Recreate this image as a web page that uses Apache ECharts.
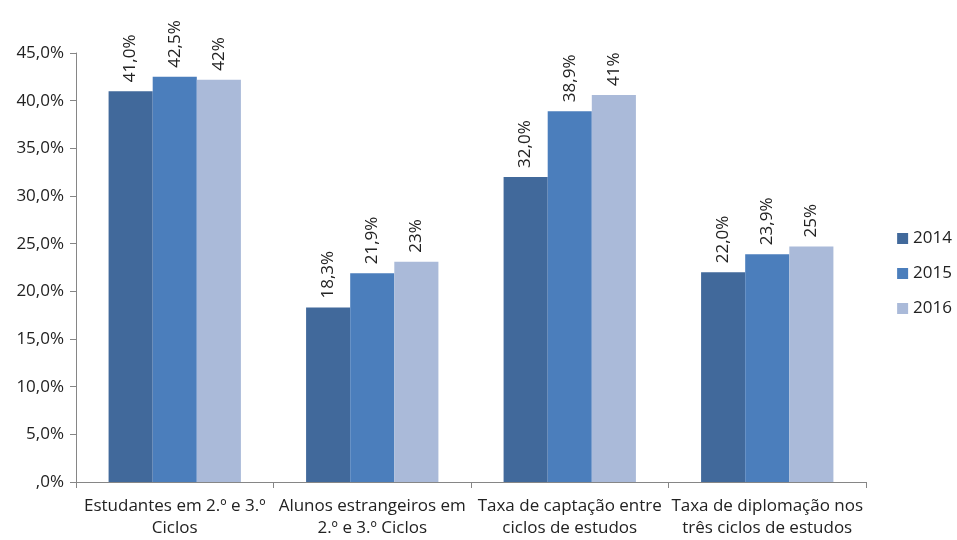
<!DOCTYPE html>
<html>
<head>
<meta charset="utf-8">
<script src="https://cdn.jsdelivr.net/npm/echarts@6/dist/echarts.min.js"></script>
<style>
  html, body { margin: 0; padding: 0; background: #fff; }
  #chart { width: 957px; height: 540px; }
</style>
</head>
<body>
<div id="chart"></div>
<script>
const categories = [
    'Estudantes em 2.º e 3.º\nCiclos',
    'Alunos estrangeiros em\n2.º e 3.º Ciclos',
    'Taxa de captação entre\nciclos de estudos',
    'Taxa de diplomação nos\ntrês ciclos de estudos'
];
const seriesNames = ['2014', '2015', '2016'];
const values2014 = [41.0, 18.3, 32.0, 22.0];
const values2015 = [42.5, 21.9, 38.9, 23.9];
const values2016 = [42.2, 23.1, 40.6, 24.7];
const labelDecimals = [1, 1, 0];
const colors = ['#41699B', '#4B7EBC', '#AABAD9'];

const fontFamily = '"Open Sans", sans-serif';

const fmtPct = (v, d) => {
    if (v === 0) return ',0%';
    return v.toFixed(d).replace('.', ',') + '%';
};

const chart = echarts.init(document.getElementById('chart'));

const allValues = [values2014, values2015, values2016];

const option = {
    animation: false,
    textStyle: { fontFamily: fontFamily },
    grid: { left: 76, right: 91, top: 53, bottom: 58 },
    legend: {
        orient: 'vertical',
        right: 0,
        top: 225,
        itemWidth: 11,
        itemHeight: 11,
        itemGap: 18,
        icon: 'rect',
        data: seriesNames,
        textStyle: { fontSize: 17, color: '#222', fontFamily: fontFamily }
    },
    xAxis: {
        type: 'category',
        data: categories,
        axisLine: { lineStyle: { color: '#868686', width: 1 } },
        axisTick: { show: true, length: 6, lineStyle: { color: '#868686' } },
        axisLabel: {
            color: '#222',
            fontSize: 17,
            interval: 0,
            margin: 13,
            lineHeight: 22,
            fontFamily: fontFamily
        }
    },
    yAxis: {
        type: 'value',
        min: 0,
        max: 45,
        interval: 5,
        splitLine: { show: false },
        axisLine: { show: true, lineStyle: { color: '#868686', width: 1 } },
        axisTick: { show: true, length: 6, lineStyle: { color: '#868686' } },
        axisLabel: {
            color: '#222',
            fontSize: 17,
            margin: 12,
            fontFamily: fontFamily,
            formatter: v => fmtPct(v, 1)
        }
    },
    series: seriesNames.map((name, i) => ({
        name: name,
        type: 'bar',
        data: allValues[i],
        barGap: '0%',
        barCategoryGap: '33%',
        itemStyle: { color: colors[i] },
        label: {
            show: true,
            position: 'top',
            rotate: 90,
            align: 'left',
            verticalAlign: 'middle',
            distance: 9,
            fontSize: 17,
            color: '#222',
            fontFamily: fontFamily,
            formatter: p => fmtPct(p.value, labelDecimals[i])
        }
    }))
};

chart.setOption(option);
window.addEventListener('resize', () => {
    chart.resize();
});
</script>
</body>
</html>
